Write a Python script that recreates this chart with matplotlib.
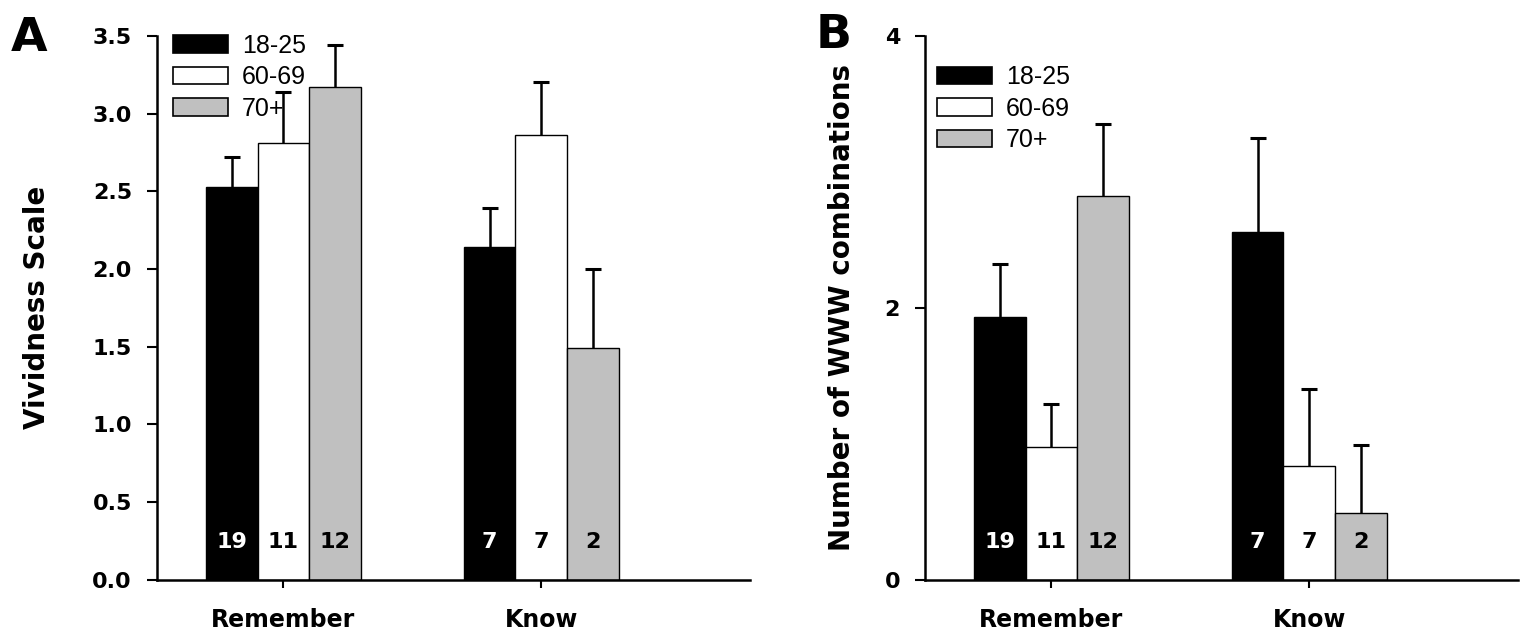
import numpy as np
import matplotlib
matplotlib.use('Agg')
import matplotlib.pyplot as plt
from matplotlib.patches import Patch

categories = ['Remember', 'Know']
groups = ['18-25', '60-69', '70+']
colors = ['black', 'white', '#c0c0c0']

# panel A: vividness
vivid_young = [2.53, 2.14]
vivid_60s = [2.81, 2.86]
vivid_70s = [3.17, 1.49]
vivid_err_young = [0.19, 0.25]
vivid_err_60s = [0.33, 0.34]
vivid_err_70s = [0.27, 0.51]

# panel B: WWW combinations
www_young = [1.93, 2.56]
www_60s = [0.98, 0.84]
www_70s = [2.82, 0.49]
www_err_young = [0.39, 0.69]
www_err_60s = [0.31, 0.56]
www_err_70s = [0.53, 0.50]

# n per bar
n_young = [19, 7]
n_60s = [11, 7]
n_70s = [12, 2]

BOLD = 'DejaVu Sans'
LEGEND_FONT = ['Liberation Sans', 'DejaVu Sans']
WIDTH = 0.2


def draw_panel(ax, means, errs, counts, ylim, yticks, yfmt, ylabel, label_x, leg_anchor):
    x = np.arange(len(categories))
    offsets = [-WIDTH, 0, WIDTH]
    for vals, err, n, off, col, name in zip(means, errs, counts, offsets, colors, groups):
        ax.bar(x + off, vals, WIDTH, color=col, edgecolor='black', linewidth=1.0,
               label=name, zorder=2)
        eb = ax.errorbar(x + off, vals, yerr=[np.zeros(len(err)), err], fmt='none',
                         ecolor='black', elinewidth=1.8, capsize=5.5, capthick=2.2, zorder=6)
        # only the upper cap is wanted
        caps = eb[1]
        if len(caps) == 2:
            caps[0].set_visible(False)
        txt_col = 'white' if col == 'black' else 'black'
        for xi, ni in zip(x + off, n):
            ax.annotate(str(ni), xy=(xi, 0), xytext=(0, 27), textcoords='offset points',
                        ha='center', va='center', color=txt_col, fontsize=16,
                        fontweight='bold', family=BOLD, zorder=7)

    ax.set_xlim(-0.49, 1.81)
    ax.set_ylim(*ylim)
    ax.set_yticks(yticks)
    ax.set_yticklabels([yfmt.format(v) for v in yticks], fontsize=16, fontweight='bold', family=BOLD)
    ax.set_xticks(x)
    ax.set_xticklabels(categories, fontsize=17, fontweight='bold', family=BOLD)
    ax.tick_params(axis='y', direction='out', length=7, width=1.5, pad=11)
    ax.tick_params(axis='x', direction='out', length=6, width=1.5, pad=14)
    ax.spines['top'].set_visible(False)
    ax.spines['right'].set_visible(False)
    ax.spines['left'].set_linewidth(1.8)
    ax.spines['bottom'].set_linewidth(1.8)
    ax.set_ylabel(ylabel, fontsize=20, fontweight='bold', family=BOLD)
    ax.yaxis.set_label_coords(label_x, 0.5)

    handles = [Patch(facecolor=c, edgecolor='black', linewidth=1.2) for c in colors]
    ax.legend(handles, groups, loc='upper left', bbox_to_anchor=leg_anchor, frameon=False,
              borderaxespad=0, borderpad=0, handlelength=2.2, handleheight=0.7,
              handletextpad=0.55, labelspacing=0.3,
              prop={'family': LEGEND_FONT, 'size': 18})


fig = plt.figure(figsize=(15.3, 6.4), dpi=100)
ax_a = fig.add_axes([0.1026, 0.094, 0.3876, 0.85])
ax_b = fig.add_axes([0.6046, 0.094, 0.3876, 0.85])

draw_panel(ax_a, [vivid_young, vivid_60s, vivid_70s],
           [vivid_err_young, vivid_err_60s, vivid_err_70s],
           [n_young, n_60s, n_70s],
           (0, 3.5), [0, 0.5, 1.0, 1.5, 2.0, 2.5, 3.0, 3.5], '{:.1f}',
           'Vividness Scale', -0.179, (0.027, 1.004))

draw_panel(ax_b, [www_young, www_60s, www_70s],
           [www_err_young, www_err_60s, www_err_70s],
           [n_young, n_60s, n_70s],
           (0, 4), [0, 2, 4], '{:.0f}',
           'Number of WWW combinations', -0.116, (0.02, 0.946))

fig.text(0.007, 0.92, 'A', fontsize=34, fontweight='bold', family=BOLD)
fig.text(0.533, 0.925, 'B', fontsize=34, fontweight='bold', family=BOLD)

fig.savefig('out.png', dpi=100)
